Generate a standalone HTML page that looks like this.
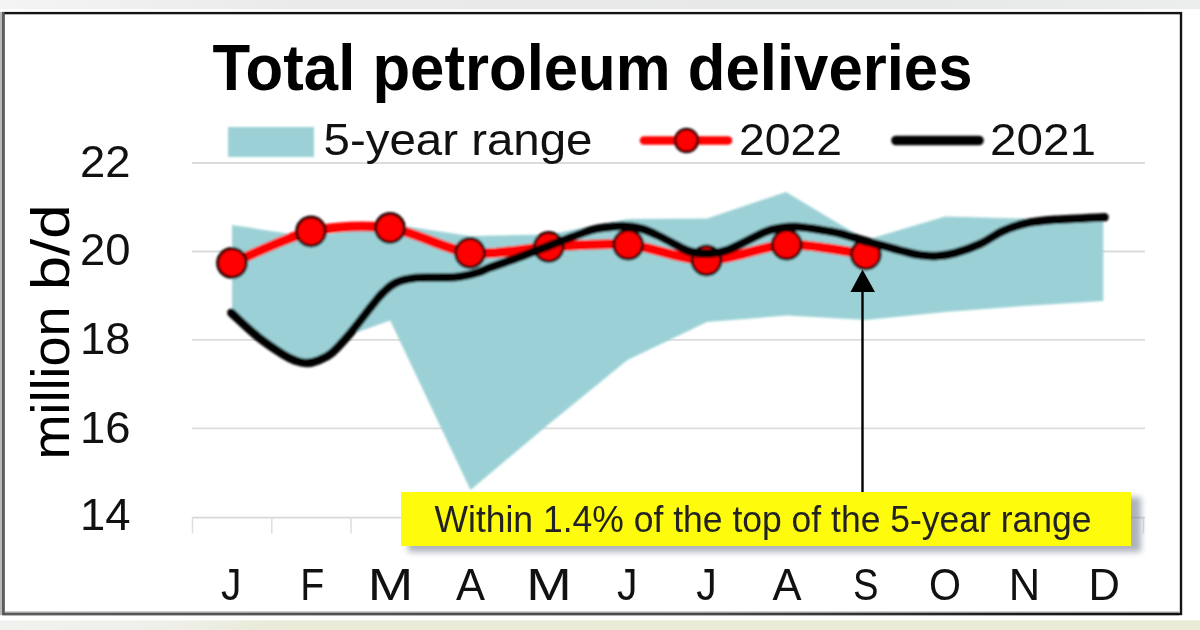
<!DOCTYPE html>
<html lang="en">
<head>
<meta charset="utf-8">
<title>Total petroleum deliveries</title>
<style>
html,body{margin:0;padding:0;background:#fff;}
body{width:1200px;height:630px;overflow:hidden;position:relative;}
svg{position:absolute;left:0;top:0;display:block;}
text{font-family:"Liberation Sans",Arial,sans-serif;}
.lab{fill:#111;}
.lab{font-size:43.5px;}
</style>
</head>
<body>
<svg width="1200" height="630" viewBox="0 0 1200 630">
  <defs>
    <linearGradient id="topg" x1="0" x2="1" y1="0" y2="0">
      <stop offset="0" stop-color="#f3f4f3"/>
      <stop offset="0.25" stop-color="#e9eae9"/>
      <stop offset="0.75" stop-color="#e6e8e7"/>
      <stop offset="1" stop-color="#eceeed"/>
    </linearGradient>
    <linearGradient id="bbg" x1="0" x2="1" y1="0" y2="0">
      <stop offset="0" stop-color="#5a5a5a"/>
      <stop offset="0.6" stop-color="#484848"/>
      <stop offset="0.85" stop-color="#1c1c1c"/>
      <stop offset="1" stop-color="#111111"/>
    </linearGradient>
    <linearGradient id="botg" x1="0" x2="1" y1="0" y2="0">
      <stop offset="0" stop-color="#f1f1ef"/>
      <stop offset="0.14" stop-color="#efefea"/>
      <stop offset="0.22" stop-color="#e9ebd8"/>
      <stop offset="1" stop-color="#e9ebd6"/>
    </linearGradient>
    <filter id="sh" x="-5%" y="-30%" width="110%" height="180%">
      <feGaussianBlur stdDeviation="3.2"/>
    </filter>
    <filter id="soft" x="0" y="0" width="1200" height="630" filterUnits="userSpaceOnUse">
      <feGaussianBlur stdDeviation="0.8"/>
    </filter>
  </defs>
  <!-- page background -->
  <rect x="0" y="0" width="1200" height="630" fill="#ffffff"/>
  <rect x="0" y="0" width="1200" height="9.3" fill="url(#topg)"/>
  <rect x="0" y="620.4" width="1200" height="10" fill="url(#botg)"/>
  <!-- chart frame -->
  <rect x="3.3" y="13.1" width="1177.7" height="600.9" fill="#ffffff" stroke="#141414" stroke-width="2.4"/>
  <rect x="4.5" y="611.4" width="1175" height="1.5" fill="#b4b4b4"/>
  <rect x="4.5" y="612.8" width="1174.9" height="2.4" fill="url(#bbg)"/>
  <rect x="0" y="12" width="2.4" height="603.2" fill="#b8b8b8"/>
  <rect x="2.4" y="12" width="2.1" height="603.2" fill="#5c5c5c"/>

  <!-- gridlines -->
  <g stroke="#dcdcdc" stroke-width="1.8" fill="none">
    <line x1="192" x2="1145" y1="163" y2="163"/>
    <line x1="192" x2="1145" y1="251.5" y2="251.5"/>
    <line x1="192" x2="1145" y1="339.8" y2="339.8"/>
    <line x1="192" x2="1145" y1="428.4" y2="428.4"/>
    <line x1="192" x2="1145" y1="517.6" y2="517.6" stroke="#d8d8d8" stroke-width="1.6"/>
    <path stroke="#dedede" stroke-width="1.5" d="M192.5 517.6V533.5M271.8 517.6V533.5M351.0 517.6V533.5M430.2 517.6V533.5M509.5 517.6V533.5M588.8 517.6V533.5M668.0 517.6V533.5M747.2 517.6V533.5M826.5 517.6V533.5M905.8 517.6V533.5M985.0 517.6V533.5M1064.2 517.6V533.5M1143.5 517.6V533.5"/>
  </g>

  <g filter="url(#soft)">
  <!-- 5-year range band -->
  <path fill="#9bd1d6" d="M232 225 L311 237 L390 224 L470 236 L549 234.5 L628 219 L707 218.5 L786 192 L866 240 L945 216.5 L1024 218.5 L1103.3 220 L1103.3 301 L1024 306 L945 312 L866 320 L787 315.5 L707 322 L627.5 360 L549 424 L470.5 490 L390.2 320.5 L341 338 L333 349 L318 357.5 L306.5 360 L296 358 L283.5 351.5 L258 333.5 L232 310.5 Z"/>

  <!-- 2022 red series -->
  <path fill="none" stroke="#ff0000" stroke-width="9.8" stroke-linejoin="round" stroke-linecap="round"
        d="M232.0 263.0 C243.8 258.3 287.3 236.8 311.0 231.5 C334.7 226.2 366.1 224.8 390.0 228.0 C413.9 231.2 446.2 250.2 470.0 253.0 C493.8 255.8 525.0 248.2 548.7 247.0 C572.4 245.8 604.5 242.7 628.2 244.7 C651.9 246.7 682.7 260.5 706.5 260.5 C730.3 260.5 762.8 245.6 786.7 244.7 C810.6 243.8 853.9 253.0 865.8 254.5"/>
  <g fill="#ff0000" stroke="#200000" stroke-width="3">
    <circle cx="232.0" cy="263.0" r="14.4"/>
    <circle cx="311.0" cy="231.5" r="14.4"/>
    <circle cx="390.0" cy="228.0" r="14.4"/>
    <circle cx="470.0" cy="253.0" r="14.4"/>
    <circle cx="548.7" cy="247.0" r="14.4"/>
    <circle cx="628.2" cy="244.7" r="14.4"/>
    <circle cx="706.5" cy="260.5" r="14.4"/>
    <circle cx="786.7" cy="244.7" r="14.4"/>
    <circle cx="865.8" cy="254.5" r="14.4"/>
  </g>

  <!-- 2021 black series -->
  <path fill="none" stroke="#000" stroke-width="8.6" stroke-linejoin="round" stroke-linecap="round"
        d="M231.4 312.7 C235.8 316.7 249.3 329.8 258.0 336.8 C266.7 343.8 277.2 350.6 283.5 354.6 C289.8 358.6 292.2 359.4 296.0 360.8 C299.8 362.2 302.8 363.1 306.5 363.0 C310.2 362.9 313.8 362.2 318.0 360.5 C322.2 358.8 326.3 357.6 331.7 353.0 C337.1 348.4 344.8 339.5 350.2 333.2 C355.6 326.9 360.4 320.5 364.4 315.4 C368.4 310.3 371.2 306.4 374.3 302.7 C377.4 299.0 379.2 296.3 382.7 293.0 C386.2 289.7 390.1 285.5 395.4 283.0 C400.7 280.5 407.0 278.9 414.4 278.0 C421.8 277.1 432.4 277.7 439.8 277.5 C447.2 277.3 452.5 277.6 458.9 276.8 C465.3 276.0 472.8 274.1 478.0 272.5 C483.2 270.9 483.0 270.1 490.0 267.5 C497.0 264.9 510.3 260.6 520.0 257.0 C529.7 253.4 536.3 250.6 548.0 246.2 C559.7 241.8 579.7 233.7 590.0 230.5 C600.3 227.3 604.5 227.8 610.0 227.0 C615.5 226.2 617.6 225.7 623.0 226.0 C628.4 226.3 636.3 227.2 642.5 229.0 C648.7 230.8 653.8 233.5 660.0 236.5 C666.2 239.5 675.0 244.5 680.0 247.0 C685.0 249.5 685.6 250.4 690.0 251.5 C694.4 252.6 700.2 253.8 706.5 253.5 C712.8 253.2 717.8 253.6 727.5 250.0 C737.2 246.4 756.2 235.7 765.0 232.0 C773.8 228.3 775.0 228.9 780.0 228.0 C785.0 227.1 788.3 226.5 795.0 226.8 C801.7 227.0 812.5 228.6 820.0 229.8 C827.5 230.9 832.5 231.6 840.0 233.5 C847.5 235.4 853.3 237.8 865.0 241.0 C876.7 244.2 900.0 250.6 910.0 253.0 C920.0 255.4 920.5 255.0 925.0 255.5 C929.5 256.0 932.0 256.4 937.0 256.0 C942.0 255.6 947.8 255.0 955.0 253.0 C962.2 251.0 972.0 247.7 980.0 244.0 C988.0 240.3 995.5 234.4 1003.0 231.0 C1010.5 227.6 1016.3 225.4 1025.0 223.5 C1033.7 221.6 1041.8 220.8 1055.0 219.8 C1068.2 218.8 1096.2 217.7 1104.5 217.3"/>

  <!-- legend keys -->
  <rect x="228" y="127" width="86" height="30" fill="#9bd1d6"/>
  <line x1="644" x2="728" y1="140.5" y2="140.5" stroke="#ff0000" stroke-width="8.6" stroke-linecap="round"/>
  <circle cx="686.5" cy="140.5" r="11.4" fill="#ff0000" stroke="#200000" stroke-width="2.6"/>
  <line x1="896" x2="979" y1="140.5" y2="140.5" stroke="#000" stroke-width="9.6" stroke-linecap="round"/>
  </g>

  <!-- annotation arrow -->
  <line x1="862.5" x2="862.5" y1="290" y2="492" stroke="#000" stroke-width="2.4"/>
  <path d="M862.5 269.5 L875 292 L850.5 292 Z" fill="#000"/>

  <!-- callout -->
  <rect x="408" y="497" width="733" height="55" fill="#7c8294" opacity="0.62" filter="url(#sh)"/>
  <rect x="401" y="492" width="730" height="54" fill="#fffb0c"/>

  <!-- callout text -->
  <text x="434.5" y="531.7" font-size="36.3" textLength="657" lengthAdjust="spacingAndGlyphs" fill="#222">Within 1.4% of the top of the 5-year range</text>

  <!-- title -->
  <text x="212.5" y="90" font-size="64.5" font-weight="700" textLength="760" lengthAdjust="spacingAndGlyphs" fill="#000">Total petroleum deliveries</text>

  <!-- legend labels -->
  <text class="lab" x="323.5" y="154.5" textLength="269" lengthAdjust="spacingAndGlyphs">5-year range</text>
  <text class="lab" x="739" y="154.5" textLength="103" lengthAdjust="spacingAndGlyphs">2022</text>
  <text class="lab" x="990" y="154.5" textLength="106" lengthAdjust="spacingAndGlyphs">2021</text>

  <!-- y axis labels -->
  <g class="lab" text-anchor="end">
    <text x="130.5" y="177" textLength="50.5" lengthAdjust="spacingAndGlyphs">22</text>
    <text x="130.5" y="264.9" textLength="50.5" lengthAdjust="spacingAndGlyphs">20</text>
    <text x="130.5" y="354" textLength="50.5" lengthAdjust="spacingAndGlyphs">18</text>
    <text x="130.5" y="442.5" textLength="50.5" lengthAdjust="spacingAndGlyphs">16</text>
    <text x="130.5" y="530.4" textLength="50.5" lengthAdjust="spacingAndGlyphs">14</text>
  </g>
  <text transform="translate(69 460) rotate(-90)" font-size="53"><tspan x="0.5" textLength="153" lengthAdjust="spacingAndGlyphs">million</tspan> <tspan x="169.7" textLength="86" lengthAdjust="spacingAndGlyphs">b/d</tspan></text>

  <!-- x axis labels -->
  <g class="lab" text-anchor="middle">
    <text x="231.3" y="600.3" textLength="20.5" lengthAdjust="spacingAndGlyphs">J</text>
    <text x="312.3" y="600.3" textLength="24" lengthAdjust="spacingAndGlyphs">F</text>
    <text x="390.6" y="600.3" textLength="45.5" lengthAdjust="spacingAndGlyphs">M</text>
    <text x="470.4" y="600.3">A</text>
    <text x="549.0" y="600.3" textLength="45.5" lengthAdjust="spacingAndGlyphs">M</text>
    <text x="627.3" y="600.3" textLength="20.5" lengthAdjust="spacingAndGlyphs">J</text>
    <text x="706.5" y="600.3" textLength="20.5" lengthAdjust="spacingAndGlyphs">J</text>
    <text x="787.0" y="600.3">A</text>
    <text x="865.8" y="600.3" textLength="25.5" lengthAdjust="spacingAndGlyphs">S</text>
    <text x="945.0" y="600.3" textLength="32" lengthAdjust="spacingAndGlyphs">O</text>
    <text x="1024.4" y="600.3">N</text>
    <text x="1104.3" y="600.3">D</text>
  </g>
</svg>
</body>
</html>
